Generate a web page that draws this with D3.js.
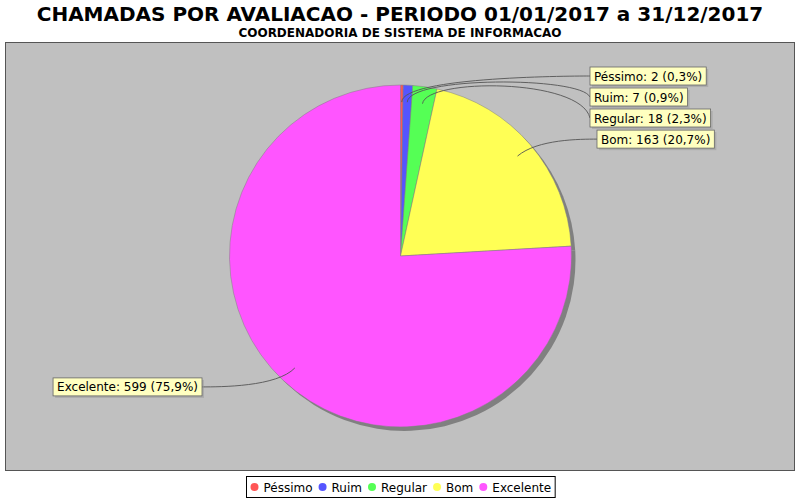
<!DOCTYPE html>
<html><head><meta charset="utf-8">
<script src="https://cdn.jsdelivr.net/npm/d3@7"></script>
<style>body{margin:0;background:#fff} svg{display:block;font-family:"DejaVu Sans",sans-serif}</style>
</head><body><svg id="c" width="800" height="500"></svg>
<script>
const categories = ["Péssimo","Ruim","Regular","Bom","Excelente"];
const values = [2,7,18,163,599];
const colors = ["#ff5555","#5555ff","#55ff55","#ffff55","#ff55ff"];
const title = "CHAMADAS POR AVALIACAO - PERIODO 01/01/2017 a 31/12/2017";
const subtitle = "COORDENADORIA DE SISTEMA DE INFORMACAO";

const svg = d3.select("#c");
const W = 800, H = 500;
const plot = {x:5.5, y:42.5, w:789, h:428};
const cx = 400.5, cy = 256, r = 171, R = 180;
const total = d3.sum(values);
const pct = v => (v/total*100).toFixed(1).replace(".", ",") + "%";

svg.append("rect").attr("width",W).attr("height",H).attr("fill","#fff");
svg.append("text").attr("x",W/2).attr("y",21).attr("text-anchor","middle")
  .attr("font-weight","bold").attr("font-size",20).attr("fill","#000").text(title);
svg.append("text").attr("x",W/2).attr("y",37).attr("text-anchor","middle")
  .attr("font-weight","bold").attr("font-size",12).attr("fill","#000").text(subtitle);

svg.append("rect").attr("x",plot.x).attr("y",plot.y).attr("width",plot.w).attr("height",plot.h)
  .attr("fill","#c0c0c0").attr("stroke","#555").attr("stroke-width",1);

const pie = d3.pie().sort(null).value(d=>d.v);
const arcs = pie(categories.map((c,i)=>({c, v:values[i], col:colors[i]})));
const arc = d3.arc().innerRadius(0).outerRadius(r);

// shadow
const g = svg.append("g");
g.selectAll("path.sh").data(arcs).join("path").attr("class","sh")
  .attr("transform",`translate(${cx+4},${cy+4})`).attr("d",arc).attr("fill","#808080");
g.selectAll("path.sl").data(arcs).join("path").attr("class","sl")
  .attr("transform",`translate(${cx},${cy})`).attr("d",arc)
  .attr("fill",d=>d.data.col).attr("stroke","#808080").attr("stroke-width",0.5);

const polar = (rho,a) => [cx + rho*Math.sin(a), cy - rho*Math.cos(a)];

// label layout
const labelNudge = {"Bom":7};
const rightX = cx + R + 9.5, leftX = cx - R - 18.5;
const recs = arcs.map(d => {
  const a = (d.startAngle + d.endAngle)/2;
  return {d, a, right: a < Math.PI, ny: polar(R,a)[1]};
});
const rights = recs.filter(x=>x.right).sort((p,q)=>p.ny-q.ny);
let prev = -Infinity;
rights.forEach(x=>{ x.y = Math.max(x.ny, prev+21); prev = x.y; });
const lefts = recs.filter(x=>!x.right).sort((p,q)=>q.ny-p.ny);
prev = Infinity;
lefts.forEach(x=>{ x.y = Math.min(x.ny, prev-21); prev = x.y; });

const lg = svg.append("g");
recs.forEach(x=>{
  const L = polar(r*0.9, x.a), E = polar(R, x.a);
  const ax = x.right ? cx + R : cx - R;
  const tx = x.right ? rightX + (labelNudge[x.d.data.c]||0) : leftX;
  lg.append("path")
    .attr("d",`M${tx},${x.y}C${ax},${E[1]} ${E[0]},${E[1]} ${L[0]},${L[1]}`)
    .attr("fill","none").attr("stroke","#555").attr("stroke-width",0.9);
  const txt = `${x.d.data.c}: ${x.d.data.v} (${pct(x.d.data.v)})`;
  const t = lg.append("text").attr("font-size",12).attr("fill","#000").text(txt);
  const tw = t.node().getComputedTextLength();
  const bw = tw + 8, bh = 18;
  const bx = x.right ? tx : tx - bw, by = x.y - bh/2;
  lg.insert("rect", () => t.node()).attr("x",bx+2).attr("y",by+2).attr("width",bw).attr("height",bh)
    .attr("fill","rgba(151,151,151,0.5)");
  lg.insert("rect", () => t.node()).attr("x",bx).attr("y",by).attr("width",bw).attr("height",bh)
    .attr("fill","#ffffc0").attr("stroke","#666").attr("stroke-width",0.8);
  t.attr("x",bx+4).attr("y",by+13.5);
});

// legend
const leg = svg.append("g");
const items = categories.map((c,i)=>({c,col:colors[i]}));
let lx = 0;
const pad = 3, gapCT = 5, gapII = 6, cr = 4;
const ig = leg.selectAll("g").data(items).join("g");
ig.each(function(d){
  const gg = d3.select(this);
  gg.append("circle").attr("cx",lx+cr).attr("cy",0).attr("r",cr).attr("fill",d.col);
  const t = gg.append("text").attr("x",lx+2*cr+gapCT).attr("y",4.5).attr("font-size",12).attr("fill","#000").text(d.c);
  lx += 2*cr + gapCT + t.node().getComputedTextLength() + gapII;
});
const lw = lx - gapII + 2*pad + 2;
const lx0 = Math.round(W/2 - lw/2) + 0.5;
leg.insert("rect","g").attr("x",lx0).attr("y",476.5).attr("width",lw).attr("height",21)
  .attr("fill","#fff").attr("stroke","#000").attr("stroke-width",1);
ig.attr("transform",`translate(${lx0+pad+1},487)`);
</script></body></html>
